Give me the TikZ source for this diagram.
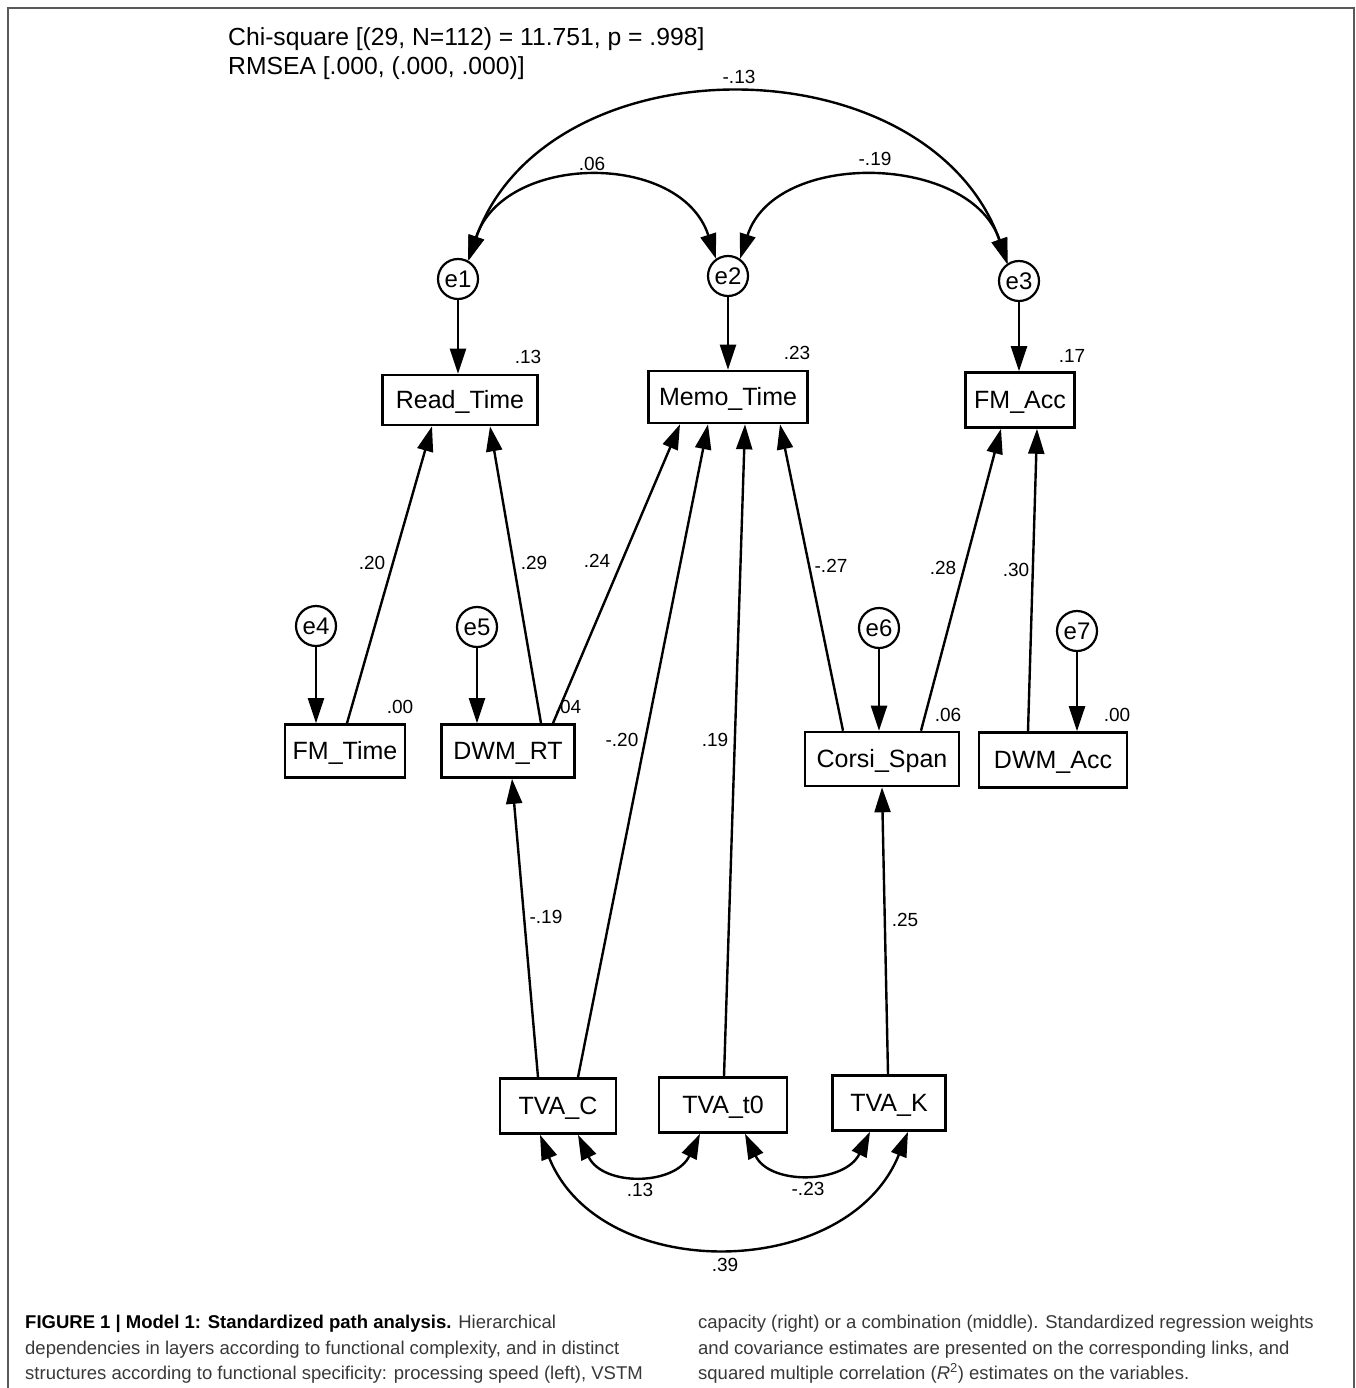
\documentclass[tikz,border=0pt]{standalone}
\usepackage{fontspec}
\setmainfont{Liberation Sans}
\newfontfamily\capfont{Liberation Sans}
\usetikzlibrary{arrows.meta}
\definecolor{capgray}{gray}{0.22}
\definecolor{framegray}{gray}{0.35}
\begin{document}
\begin{tikzpicture}[x=1pt,y=-1pt,
  box/.style 2 args={draw,line width=2.6pt,minimum width=#1,minimum height=#2,inner sep=0pt,text height=17.8pt,text depth=0pt,font=\fontsize{25}{29}\selectfont},
  err/.style={draw,circle,line width=2.2pt,minimum size=40pt,inner sep=0pt,text height=17.2pt,text depth=0pt,font=\fontsize{24}{28}\selectfont},
  lbl/.style={font=\fontsize{19}{22}\selectfont,inner sep=0pt},
  reg/.style={line width=2.4pt,-{Triangle[length=25pt,width=16pt]}},
  cov/.style={line width=2.4pt,{Triangle[length=25pt,width=16pt]}-{Triangle[length=25pt,width=16pt]}},
  captxt/.style={anchor=base west,inner sep=0pt,font=\capfont\fontsize{18.5}{22}\selectfont},
]
\useasboundingbox (0,0) rectangle (1355,1388);
% frame
\draw[framegray,line width=2pt] (8,1388) -- (8,8) -- (1354,8) -- (1354,1388);

% header
\node[anchor=base west,inner sep=0pt,font=\fontsize{24.7}{29}\selectfont] (hd1) at (228,46) {Chi-square [(29, N=112) = 11.751, p = .998]};
\node[anchor=base west,inner sep=0pt,font=\fontsize{24.7}{29}\selectfont] (hd2) at (228,75) {RMSEA [.000, (.000, .000)]};

% error terms
\node[err] (e1) at (458,279) {e1};
\node[err] (e2) at (728,276) {e2};
\node[err] (e3) at (1019,281) {e3};
\node[err] (e4) at (316,626) {e4};
\node[err] (e5) at (477,627) {e5};
\node[err] (e6) at (879,628) {e6};
\node[err] (e7) at (1077,631) {e7};

% observed variables
\node[box={155pt}{50pt}] (rt) at (460,400) {Read\_Time};
\node[box={159pt}{52pt}] (mt) at (728,397) {Memo\_Time};
\node[box={109pt}{55pt}] (fa) at (1020,400) {FM\_Acc};
\node[box={120pt}{53pt}] (ft) at (345,751) {FM\_Time};
\node[box={133pt}{53pt}] (dr) at (508,751) {DWM\_RT};
\node[box={154pt}{54pt}] (cs) at (882,759) {Corsi\_Span};
\node[box={148pt}{55pt}] (da) at (1053,760) {DWM\_Acc};
\node[box={116pt}{55pt}] (tc) at (558,1106) {TVA\_C};
\node[box={128pt}{55pt}] (tt) at (723,1105) {TVA\_t0};
\node[box={113pt}{55pt}] (tk) at (889,1103) {TVA\_K};

% R^2 labels
\node[lbl] (r1) at (528,357) {.13};
\node[lbl] (r2) at (797,353) {.23};
\node[lbl] (r3) at (1072,356) {.17};
\node[lbl] (r4) at (400,707) {.00};
\node[lbl] (r5) at (568,707) {.04};
\node[lbl] (r6) at (948,715) {.06};
\node[lbl] (r7) at (1117,715) {.00};

% error arrows
\draw[reg] (e1.south) -- (e1.south |- rt.north);
\draw[reg] (e2.south) -- (e2.south |- mt.north);
\draw[reg] (e3.south) -- (e3.south |- fa.north);
\draw[reg] (e4.south) -- (e4.south |- ft.north);
\draw[reg] (e5.south) -- (e5.south |- dr.north);
\draw[reg] (e6.south) -- (e6.south |- cs.north);
\draw[reg] (e7.south) -- (e7.south |- da.north);

% regression paths
\draw[reg] ([xshift=2pt]ft.north) -- ([xshift=-28pt]rt.south);
\draw[reg] ([xshift=33pt]dr.north) -- ([xshift=30pt]rt.south);
\draw[reg] ([xshift=45pt]dr.north) -- ([xshift=-48pt]mt.south);
\draw[reg] ([xshift=20pt]tc.north) -- ([xshift=-20pt]mt.south);
\draw[reg] ([xshift=1pt]tt.north) -- ([xshift=17pt]mt.south);
\draw[reg] ([xshift=-39pt]cs.north) -- ([xshift=52pt]mt.south);
\draw[reg] ([xshift=39pt]cs.north) -- ([xshift=-19pt]fa.south);
\draw[reg] ([xshift=-25pt]da.north) -- ([xshift=17pt]fa.south);
\draw[reg] ([xshift=-20pt]tc.north) -- ([xshift=4pt]dr.south);
\draw[reg] ([xshift=-1pt]tk.north) -- (cs.south);

% path labels
\node[lbl] (l1) at (372,563) {.20};
\node[lbl] (l2) at (534,563) {.29};
\node[lbl] (l3) at (597,561) {.24};
\node[lbl] (l4) at (622,740) {-.20};
\node[lbl] (l5) at (715,740) {.19};
\node[lbl] (l6) at (831,566) {-.27};
\node[lbl] (l7) at (943,568) {.28};
\node[lbl] (l8) at (1016,570) {.30};
\node[lbl] (l9) at (546,917) {-.19};
\node[lbl] (l10) at (905,920) {.25};

% covariances among errors
\draw[cov] (e1.60) .. controls +(35,-108) and +(-35,-108) .. (e2.125);
\draw[cov] (e2.55) .. controls +(35,-110) and +(-35,-110) .. (e3.125);
\draw[cov] (e1.62) .. controls +(80,-222) and +(-80,-222) .. (e3.122);
\node[lbl] (c1) at (592,164) {.06};
\node[lbl] (c2) at (875,159) {-.19};
\node[lbl] (c3) at (739,77) {-.13};

% covariances among TVA
\draw[cov] ([xshift=20pt]tc.south) .. controls +(25,52) and +(-25,52) .. ([xshift=-23pt]tt.south);
\draw[cov] ([xshift=22pt]tt.south) .. controls +(25,52) and +(-25,52) .. ([xshift=-19pt]tk.south);
\draw[cov] ([xshift=-18pt]tc.south) .. controls +(60,150) and +(-60,150) .. ([xshift=19pt]tk.south);
\node[lbl] (c4) at (640,1190) {.13};
\node[lbl] (c5) at (808,1189) {-.23};
\node[lbl] (c6) at (725,1265) {.39};

% caption
\node[captxt] (cap1) at (25,1328) {\textbf{FIGURE 1 | Model 1: Standardized path analysis.} \textcolor{capgray}{Hierarchical}};
\node[captxt,text=capgray] (cap2) at (25,1354) {dependencies in layers according to functional complexity, and in distinct};
\node[captxt,text=capgray] (cap3) at (25,1379) {structures according to functional specificity: processing speed (left), VSTM};
\node[captxt,text=capgray] (cap4) at (698,1328) {capacity (right) or a combination (middle). Standardized regression weights};
\node[captxt,text=capgray] (cap5) at (698,1354) {and covariance estimates are presented on the corresponding links, and};
\node[captxt,text=capgray] (cap6) at (698,1379) {squared multiple correlation ({\itshape R}\textsuperscript{2}) estimates on the variables.};
\end{tikzpicture}
\end{document}
